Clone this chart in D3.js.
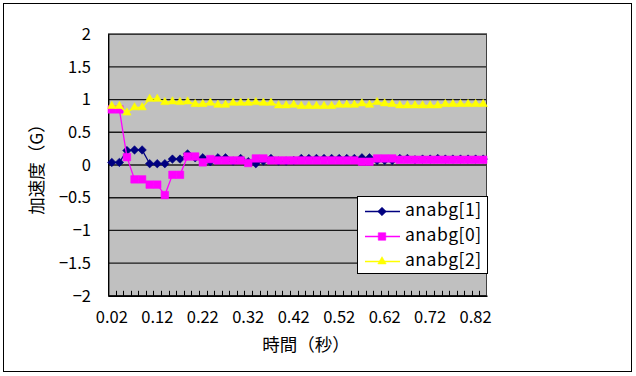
<!DOCTYPE html>
<html>
<head>
<meta charset="utf-8">
<script src="https://cdn.jsdelivr.net/npm/d3@7"></script>
<style>
  html, body { margin: 0; padding: 0; background: #fff; }
  svg { display: block; }
  text { font-family: "Noto Sans CJK JP", "Noto Sans", sans-serif; fill: #000; }
</style>
</head>
<body>
<svg id="chart" width="636" height="376"></svg>
<script>
const categories = ["0.02","0.03","0.05","0.07","0.08","0.10","0.12","0.13","0.15","0.17",
  "0.18","0.20","0.22","0.23","0.25","0.27","0.28","0.30","0.32","0.33",
  "0.35","0.37","0.38","0.40","0.42","0.43","0.45","0.47","0.48","0.50",
  "0.52","0.53","0.55","0.57","0.58","0.60","0.62","0.63","0.65","0.67",
  "0.68","0.70","0.72","0.73","0.75","0.77","0.78","0.80","0.82","0.83"];
const tickLabels = ["0.02","0.12","0.22","0.32","0.42","0.52","0.62","0.72","0.82"];
const yTicks = [-2, -1.5, -1, -0.5, 0, 0.5, 1, 1.5, 2];

const seriesNames = ["anabg[1]", "anabg[0]", "anabg[2]"];
const anabg1 = [0.04,0.04,0.22,0.23,0.23,0.02,0.02,0.02,0.09,0.09,
  0.17,0.11,0.11,0.05,0.11,0.11,0.06,0.10,0.05,0.02,
  0.06,0.10,0.06,0.06,0.07,0.10,0.10,0.10,0.10,0.10,
  0.10,0.10,0.10,0.11,0.11,0.07,0.07,0.07,0.10,0.10,
  0.08,0.09,0.09,0.10,0.09,0.09,0.09,0.09,0.09,0.09];
const anabg0 = [0.85,0.85,0.12,-0.22,-0.22,-0.30,-0.30,-0.46,-0.15,-0.15,
  0.13,0.13,0.04,0.09,0.07,0.07,0.07,0.07,0.03,0.10,
  0.10,0.07,0.07,0.07,0.07,0.07,0.07,0.07,0.07,0.07,
  0.07,0.07,0.07,0.05,0.05,0.10,0.10,0.10,0.08,0.08,
  0.08,0.08,0.08,0.08,0.08,0.08,0.08,0.08,0.08,0.08];
const anabg2 = [0.90,0.90,0.80,0.88,0.88,1.01,1.01,0.96,0.97,0.96,
  0.97,0.93,0.93,0.95,0.92,0.92,0.95,0.95,0.95,0.96,
  0.95,0.95,0.91,0.91,0.92,0.90,0.90,0.90,0.90,0.90,
  0.92,0.92,0.92,0.94,0.92,0.96,0.94,0.93,0.91,0.91,
  0.91,0.91,0.91,0.91,0.93,0.93,0.93,0.93,0.93,0.93];

const plot = { left: 108, right: 487, top: 34.2, bottom: 295.8 };
const svg = d3.select("#chart");

// chart area border
svg.append("rect").attr("x", 3.5).attr("y", 3.5).attr("width", 628).attr("height", 368)
  .attr("fill", "#fff").attr("stroke", "#000").attr("stroke-width", 1);

const x = d3.scaleBand().domain(categories).range([plot.left, plot.right]).padding(0);
const y = d3.scaleLinear().domain([-2, 2]).range([plot.bottom, plot.top]);
const cx = c => x(c) + x.bandwidth() / 2;

// plot background
svg.append("rect").attr("x", plot.left).attr("y", plot.top)
  .attr("width", plot.right - plot.left).attr("height", plot.bottom - plot.top)
  .attr("fill", "#c0c0c0");

// gridlines
svg.append("g").selectAll("line").data(yTicks).join("line")
  .attr("x1", plot.left).attr("x2", plot.right)
  .attr("y1", d => y(d)).attr("y2", d => y(d))
  .attr("stroke", "#1a1a1a").attr("stroke-width", 1.4);

// plot border
svg.append("rect").attr("x", plot.left + 0.5).attr("y", plot.top)
  .attr("width", plot.right - plot.left - 1).attr("height", plot.bottom - plot.top)
  .attr("fill", "none").attr("stroke", "#404040").attr("stroke-width", 1);

// Y axis
const yAxis = d3.axisLeft(y).tickValues(yTicks).tickSize(0).tickPadding(17)
  .tickFormat(d => d3.format("")(d).replace("-", "\u2212"));
const gy = svg.append("g").attr("transform", `translate(${plot.left},0)`).call(yAxis);
gy.select(".domain").attr("stroke", "#000").attr("stroke-width", 1.4)
  .attr("d", `M0.7,${plot.top}V${plot.bottom}`);
gy.selectAll("text").attr("font-size", 16.5).attr("font-family", "'Noto Sans CJK JP', sans-serif");

// X axis
const xAxis = d3.axisBottom(x).tickValues(tickLabels).tickSize(0).tickPadding(15);
const gx = svg.append("g").attr("transform", `translate(0,${plot.bottom})`).call(xAxis);
gx.select(".domain").attr("stroke", "#000").attr("stroke-width", 1.4);
gx.selectAll("text").attr("font-size", 16.5).attr("font-family", "'Noto Sans CJK JP', sans-serif");
// category tick marks (inside)
svg.append("g").selectAll("line").data(categories.slice(1)).join("line")
  .attr("x1", d => Math.round(x(d)) + 0.5).attr("x2", d => Math.round(x(d)) + 0.5)
  .attr("y1", plot.bottom).attr("y2", plot.bottom - 5)
  .attr("stroke", "#000").attr("stroke-width", 1);

// axis titles
svg.append("text").attr("x", 306).attr("y", 346).attr("text-anchor", "middle")
  .attr("dominant-baseline", "middle").attr("font-size", 17.5).text("時間（秒）");
svg.append("text").attr("transform", `translate(38,${(plot.top + plot.bottom) / 2}) rotate(-90)`)
  .attr("text-anchor", "middle").attr("dominant-baseline", "middle")
  .attr("font-size", 17.5).text("加速度（G）");

// series
const seriesData = [anabg1, anabg0, anabg2];
const colors = ["#000080", "#ff00ff", "#ffff00"];
const diamond = { draw(ctx, size) { const r = Math.sqrt(size / 2);
  ctx.moveTo(0, -r); ctx.lineTo(r, 0); ctx.lineTo(0, r); ctx.lineTo(-r, 0); ctx.closePath(); } };
const symbols = [diamond, d3.symbolSquare, d3.symbolTriangle];
const symSizes = [36, 56, 30];

const line = d3.line().x((d, i) => cx(categories[i])).y(d => y(d));
seriesData.forEach((vals, s) => {
  const g = svg.append("g");
  g.append("path").datum(vals).attr("d", line).attr("fill", "none")
    .attr("stroke", colors[s]).attr("stroke-width", 1.3);
  g.selectAll("path.m").data(vals).join("path").attr("class", "m")
    .attr("transform", (d, i) => `translate(${cx(categories[i])},${y(d)})`)
    .attr("d", d3.symbol().type(symbols[s]).size(symSizes[s]))
    .attr("fill", colors[s]).attr("stroke", colors[s]).attr("stroke-width", 0.6);
});

// legend
const lg = svg.append("g");
lg.append("rect").attr("x", 357.5).attr("y", 196.5).attr("width", 130).attr("height", 77)
  .attr("fill", "#fff").attr("stroke", "#000").attr("stroke-width", 1);
seriesNames.forEach((name, s) => {
  const ry = 211.5 + s * 25;
  lg.append("line").attr("x1", 365).attr("x2", 400).attr("y1", ry).attr("y2", ry)
    .attr("stroke", colors[s]).attr("stroke-width", 1.3);
  lg.append("path").attr("transform", `translate(382,${ry})`)
    .attr("d", d3.symbol().type(symbols[s]).size(symSizes[s]))
    .attr("fill", colors[s]).attr("stroke", colors[s]).attr("stroke-width", 0.6);
  lg.append("text").attr("x", 405).attr("y", ry).attr("dominant-baseline", "middle")
    .attr("font-size", 17.5).attr("letter-spacing", 0.5)
    .attr("font-family", "'Noto Sans CJK JP', sans-serif").text(name);
});
</script>
</body>
</html>
